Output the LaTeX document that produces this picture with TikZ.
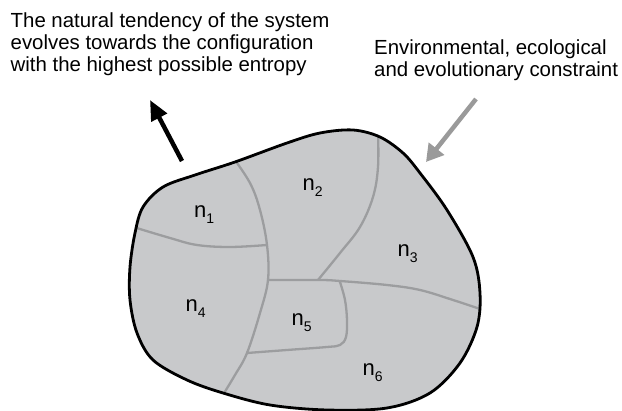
\documentclass[tikz,border=0pt]{standalone}
\usepackage{fontspec}
\setmainfont{Liberation Sans}
\usetikzlibrary{arrows.meta}
\definecolor{blobfill}{HTML}{C8C9CB}
\definecolor{partline}{HTML}{9C9D9F}
\definecolor{constrgray}{HTML}{9A9A9A}
\begin{document}
\begin{tikzpicture}[x=1pt,y=-1pt,
  caption/.style={font=\fontsize{20.4}{22}\selectfont, align=left, inner sep=0pt, anchor=base west},
  lbl/.style={font=\fontsize{22}{22}\selectfont, inner sep=0pt, anchor=base west},
  partition/.style={draw=partline, line width=2.3pt, line cap=round},
  bigarrow/.style={line width=4.5pt}]
\useasboundingbox (0,0) rectangle (622,411);
\def\blobpath{plot[smooth cycle, tension=0.55] coordinates {(235,162) (287,143) (320,133) (353,130) (380,137) (403,153) (420,173) (447,210) (473,257) (480,293) (477,327) (460,363) (430,393) (387,408) (327,410) (270,405) (223,393) (187,380) (153,360) (137,333) (130,300) (130,267) (135,233) (143,207) (163,187) (195,175)}}
\fill[blobfill] \blobpath;
\begin{scope}
\clip \blobpath;
\draw[partition] plot[smooth, tension=0.6] coordinates {(232,156) (250,183) (260,210) (267,245) (268,280) (260,313) (247,353) (235,375) (221,398)};
\draw[partition] plot[smooth, tension=0.6] coordinates {(130,226) (170,238) (197,245) (230,247) (267,245)};
\draw[partition] plot[smooth, tension=0.6] coordinates {(378,130) (378,167) (373,197) (360,227) (340,253) (318,280)};
\draw[partition] plot[smooth, tension=0.6] coordinates {(268,280) (320,280) (340,281) (387,285) (420,290) (453,300) (486,311)};
\draw[partition] plot[smooth, tension=0.6] coordinates {(340,282) (345,300) (347,320) (346,337) (340,345) (327,347) (287,350) (247,353)};
\end{scope}
\draw[black, line width=2.8pt] \blobpath;
\coordinate (blackstart) at (182,161);
\coordinate (blacktip) at (150,100);
\coordinate (graystart) at (476,99);
\coordinate (graytip) at (426,162);
\draw[bigarrow, black, -{Triangle[length=20pt,width=17pt]}] (blackstart) -- (blacktip);
\draw[bigarrow, constrgray, -{Triangle[length=17pt,width=19pt]}] (graystart) -- (graytip);
\node[caption] (tendency) at (10.5,72) {The natural tendency of the system\\evolves towards the configuration\\with the highest possible entropy};
\node[caption] (constraint) at (374,77) {Environmental, ecological\\and evolutionary constraint};
\node[lbl] (n1) at (194,218) {n\raisebox{-6pt}{\fontsize{14}{14}\selectfont 1}};
\node[lbl] (n2) at (302.5,190.5) {n\raisebox{-6pt}{\fontsize{14}{14}\selectfont 2}};
\node[lbl] (n3) at (397.5,256.5) {n\raisebox{-6pt}{\fontsize{14}{14}\selectfont 3}};
\node[lbl] (n4) at (185.5,311.5) {n\raisebox{-6pt}{\fontsize{14}{14}\selectfont 4}};
\node[lbl] (n5) at (291.5,326) {n\raisebox{-6pt}{\fontsize{14}{14}\selectfont 5}};
\node[lbl] (n6) at (362.5,376) {n\raisebox{-6pt}{\fontsize{14}{14}\selectfont 6}};
\end{tikzpicture}
\end{document}
